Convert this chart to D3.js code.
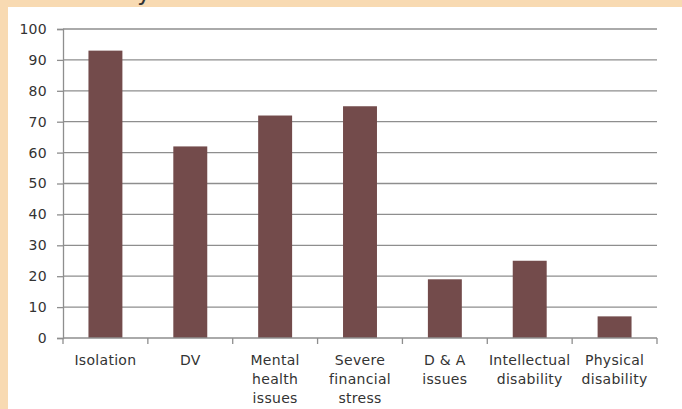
<!DOCTYPE html>
<html>
<head>
<meta charset="utf-8">
<script src="https://cdn.jsdelivr.net/npm/d3@7"></script>
<style>
  html, body { margin: 0; padding: 0; background: #fff; }
  svg { display: block; }
</style>
</head>
<body>
<script>
// Share of cases reporting each issue
const categories = [
  ["Isolation"],
  ["DV"],
  ["Mental", "health", "issues"],
  ["Severe", "financial", "stress"],
  ["D & A", "issues"],
  ["Intellectual", "disability"],
  ["Physical", "disability"]
];
const values = [93, 62, 72, 75, 19, 25, 7];
const yTicks = [0, 10, 20, 30, 40, 50, 60, 70, 80, 90, 100];

const W = 682, H = 409;
const margin = { left: 63, right: 25, top: 29, bottom: 71 };
const font = "'DejaVu Sans', sans-serif";

const svg = d3.select("body").append("svg")
  .attr("width", W).attr("height", H);

// page frame
svg.append("rect").attr("width", W).attr("height", H).attr("fill", "#F8DAB2");
svg.append("rect").attr("x", 8).attr("y", 7).attr("width", W - 8).attr("height", H - 7).attr("fill", "#fff");

// title tail peeking above the frame
svg.append("text")
  .attr("x", 137).attr("y", 0)
  .attr("font-family", font).attr("font-size", 24)
  .attr("fill", "#333")
  .text("y");

const keys = categories.map((c, i) => i);
const x = d3.scaleBand()
  .domain(keys)
  .range([margin.left, W - margin.right])
  .paddingInner(0.6).paddingOuter(0.3);

const y = d3.scaleLinear()
  .domain([0, 100])
  .range([H - margin.bottom, margin.top]);

// gridlines
svg.append("g")
  .selectAll("line")
  .data(yTicks.filter(t => t > 0))
  .join("line")
  .attr("x1", margin.left).attr("x2", W - margin.right)
  .attr("y1", d => y(d)).attr("y2", d => y(d))
  .attr("stroke", "#8E8E8E").attr("stroke-width", 1.3);

// bars
svg.append("g")
  .selectAll("rect")
  .data(values)
  .join("rect")
  .attr("x", (d, i) => x(i))
  .attr("width", x.bandwidth())
  .attr("y", d => y(d))
  .attr("height", d => y(0) - y(d))
  .attr("fill", "#734B4B");

// y axis
const yAxis = svg.append("g")
  .attr("transform", `translate(${margin.left},0)`)
  .call(d3.axisLeft(y).tickValues(yTicks).tickSize(6).tickPadding(10));
yAxis.select(".domain").attr("stroke", "#8E8E8E").attr("stroke-width", 1.3);
yAxis.selectAll(".tick line").attr("stroke", "#8E8E8E").attr("stroke-width", 1.3);
yAxis.selectAll(".tick text")
  .attr("font-family", font).attr("font-size", 14)
  .attr("letter-spacing", 0.3)
  .attr("fill", "#333");

// x axis baseline and category divider ticks
const step = x.step();
const bounds = d3.range(categories.length + 1).map(i => margin.left + i * (W - margin.left - margin.right) / categories.length);
svg.append("line")
  .attr("x1", margin.left).attr("x2", W - margin.right)
  .attr("y1", y(0)).attr("y2", y(0))
  .attr("stroke", "#8E8E8E").attr("stroke-width", 1.3);
svg.append("g")
  .selectAll("line")
  .data(bounds)
  .join("line")
  .attr("x1", d => d).attr("x2", d => d)
  .attr("y1", y(0)).attr("y2", y(0) + 6)
  .attr("stroke", "#8E8E8E").attr("stroke-width", 1.3);

// category labels
const labels = svg.append("g")
  .selectAll("text")
  .data(categories)
  .join("text")
  .attr("x", (d, i) => x(i) + x.bandwidth() / 2)
  .attr("y", y(0) + 27)
  .attr("text-anchor", "middle")
  .attr("font-family", font).attr("font-size", 14)
  .attr("letter-spacing", 0.3)
  .attr("fill", "#333");
labels.selectAll("tspan")
  .data(d => d)
  .join("tspan")
  .attr("x", function () { return this.parentNode.getAttribute("x"); })
  .attr("dy", (d, i) => i === 0 ? 0 : 19)
  .text(d => d);
</script>
</body>
</html>
